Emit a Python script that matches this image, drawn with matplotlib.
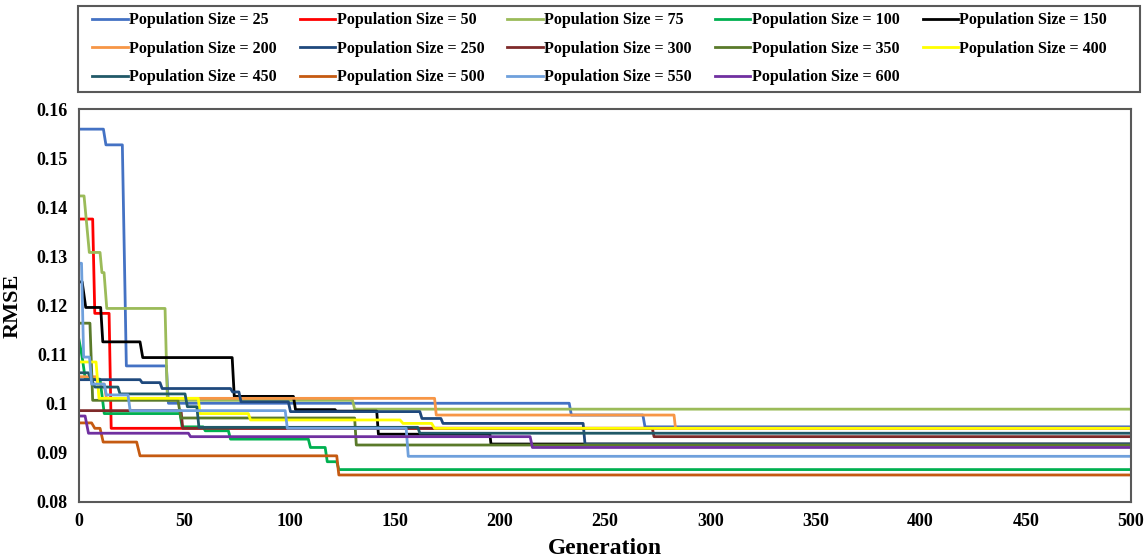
import matplotlib
matplotlib.use("Agg")
import matplotlib.pyplot as plt
from matplotlib.patches import Rectangle
from matplotlib.ticker import MultipleLocator, FuncFormatter

plt.rcParams["font.family"] = "Liberation Serif"
plt.rcParams["font.weight"] = "bold"

# Population sizes and their line colours (same order as the legend).
pop_sizes = [25, 50, 75, 100, 150, 200, 250, 300, 350, 400, 450, 500, 550, 600]
colors = ["#4472C4", "#FF0000", "#9BBB59", "#00B050", "#000000", "#F79646",
          "#1F497D", "#7F2A2A", "#5A7A2A", "#FFFF00", "#215968", "#C55A11",
          "#6FA0DC", "#7030A0"]

# Best RMSE per generation, as (generation, RMSE) break points.
pts_25 = [(0, .1559), (11.6, .1559), (12.8, .1527), (20.6, .1527), (22.5, .1077),
          (41.5, .1077), (42.5, .1001), (233, .1001), (234, .0977), (268, .0977),
          (269, .0953), (500, .0953)]
pts_50 = [(0, .1376), (6.5, .1376), (7.5, .1184), (14.3, .1184), (15.3, .0950),
          (500, .0950)]
pts_75 = [(0, .1423), (2.4, .1423), (4.9, .1308), (10, .1308), (10.9, .1267),
          (11.9, .1267), (13.2, .1194), (40.9, .1194), (42, .1007), (130, .1007),
          (131, .0989), (500, .0989)]
pts_100 = [(0, .1130), (1.5, .1095), (3, .1050), (10, .1050), (12, .0980),
           (48, .0980), (49, .0953), (59, .0953), (60, .0945), (71, .0945),
           (72, .0928), (109, .0928), (110, .0911), (117, .0911), (118, .0882),
           (122.5, .0882), (123.5, .0866), (500, .0866)]
pts_150 = [(0, .1248), (1.5, .1248), (3.2, .1196), (10.3, .1196), (11.3, .1126),
           (29, .1126), (30.3, .1094), (72.8, .1094), (73.8, .1015), (101.9, .1015),
           (102.9, .0988), (121.7, .0988), (122.3, .0985), (141.5, .0985),
           (142.3, .0938), (195.3, .0938), (195.8, .0918), (500, .0918)]
pts_200 = [(0, .1055), (8, .1055), (9, .1040), (12, .1040), (13, .1011),
           (169, .1011), (169.8, .0977), (282.8, .0977), (283.5, .0950), (500, .0950)]
pts_250 = [(0, .1049), (29, .1049), (30, .1043), (38.5, .1043), (39.5, .1031),
           (72, .1031), (73, .1024), (76, .1024), (77, .1004), (99.5, .1004),
           (100.5, .0984), (162, .0984), (163, .0970), (172, .0970), (173, .0960),
           (239.6, .0960), (240.5, .0918), (500, .0918)]
pts_300 = [(0, .0986), (48.5, .0986), (49.3, .0950), (272.5, .0950), (273.3, .0933),
           (500, .0933)]
pts_350 = [(0, .1164), (5.2, .1164), (6.5, .1007), (47, .1007), (48.5, .0971),
           (131, .0971), (131.8, .0916), (500, .0916)]
pts_400 = [(0, .1085), (8.1, .1085), (9.5, .1011), (56.7, .1011), (57.5, .0980),
           (80.5, .0980), (81.5, .0967), (152.6, .0967), (154, .0960), (167.6, .0960),
           (169, .0950), (500, .0950)]
pts_450 = [(0, .1063), (4.4, .1063), (7.6, .1034), (18.5, .1034), (19.5, .1020),
           (50.4, .1020), (51.5, .0994), (56, .0994), (57, .0952), (161, .0952),
           (162, .0940), (500, .0940)]
pts_500 = [(0, .0961), (6, .0961), (7.5, .0950), (10, .0950), (11.5, .0922),
           (27.4, .0922), (29, .0894), (122.5, .0894), (123.5, .0855), (500, .0855)]
pts_550 = [(0, .1286), (1.2, .1286), (2.2, .1095), (5, .1095), (6, .1040),
           (12, .1040), (13, .1018), (23.3, .1018), (24.3, .0986), (98, .0986),
           (99, .0950), (155.5, .0950), (156.5, .0893), (500, .0893)]
pts_600 = [(0, .0975), (2.9, .0975), (4.5, .0940), (52, .0940), (53, .0933),
           (214.4, .0933), (215.5, .0911), (500, .0911)]

series = [pts_25, pts_50, pts_75, pts_100, pts_150, pts_200, pts_250,
          pts_300, pts_350, pts_400, pts_450, pts_500, pts_550, pts_600]

fig = plt.figure(figsize=(11.48, 5.6), dpi=100)
ax = fig.add_axes([79 / 1148, 1 - 502 / 560, (1131 - 79) / 1148, (502 - 109) / 560])

lines = []
for pts, size, color in zip(series, pop_sizes, colors):
    x = [p[0] for p in pts]
    y = [p[1] for p in pts]
    ln, = ax.plot(x, y, color=color, linewidth=2.0, label=f"Population Size = {size}")
    lines.append(ln)

ax.set_xlim(0, 500)
ax.set_ylim(0.08, 0.16)
ax.xaxis.set_major_locator(MultipleLocator(50))
ax.yaxis.set_major_locator(MultipleLocator(0.01))
ax.yaxis.set_major_formatter(FuncFormatter(lambda v, p: f"{round(v, 2):g}"))
ax.tick_params(length=0, labelsize=13, pad=8)
for s in ax.spines.values():
    s.set_color("#595959")
    s.set_linewidth(1.5)

ax.set_xlabel("Generation", fontsize=17, fontweight="bold", labelpad=6)
ax.set_ylabel("RMSE", fontsize=16, fontweight="bold", labelpad=10)

# legend fills column by column, so reorder to read row by row like the original
ncol = 5
nrow = 3
order = [r * ncol + c for c in range(ncol) for r in range(nrow) if r * ncol + c < len(lines)]

# legend box above the plot
fig.patches.append(Rectangle((78 / 1148, 1 - 92 / 560), (1140 - 78) / 1148, 86 / 560,
                             transform=fig.transFigure, fill=False,
                             edgecolor="#595959", linewidth=1.5))
fig.legend([lines[i] for i in order], [lines[i].get_label() for i in order],
           loc="upper left", bbox_to_anchor=(86 / 1148, 1 - 6 / 560), ncol=ncol,
           frameon=False, fontsize=11.5, handlelength=2.2, handletextpad=0.1,
           columnspacing=1.45, labelspacing=0.78, borderaxespad=0)

fig.savefig("out.png", dpi=100)
